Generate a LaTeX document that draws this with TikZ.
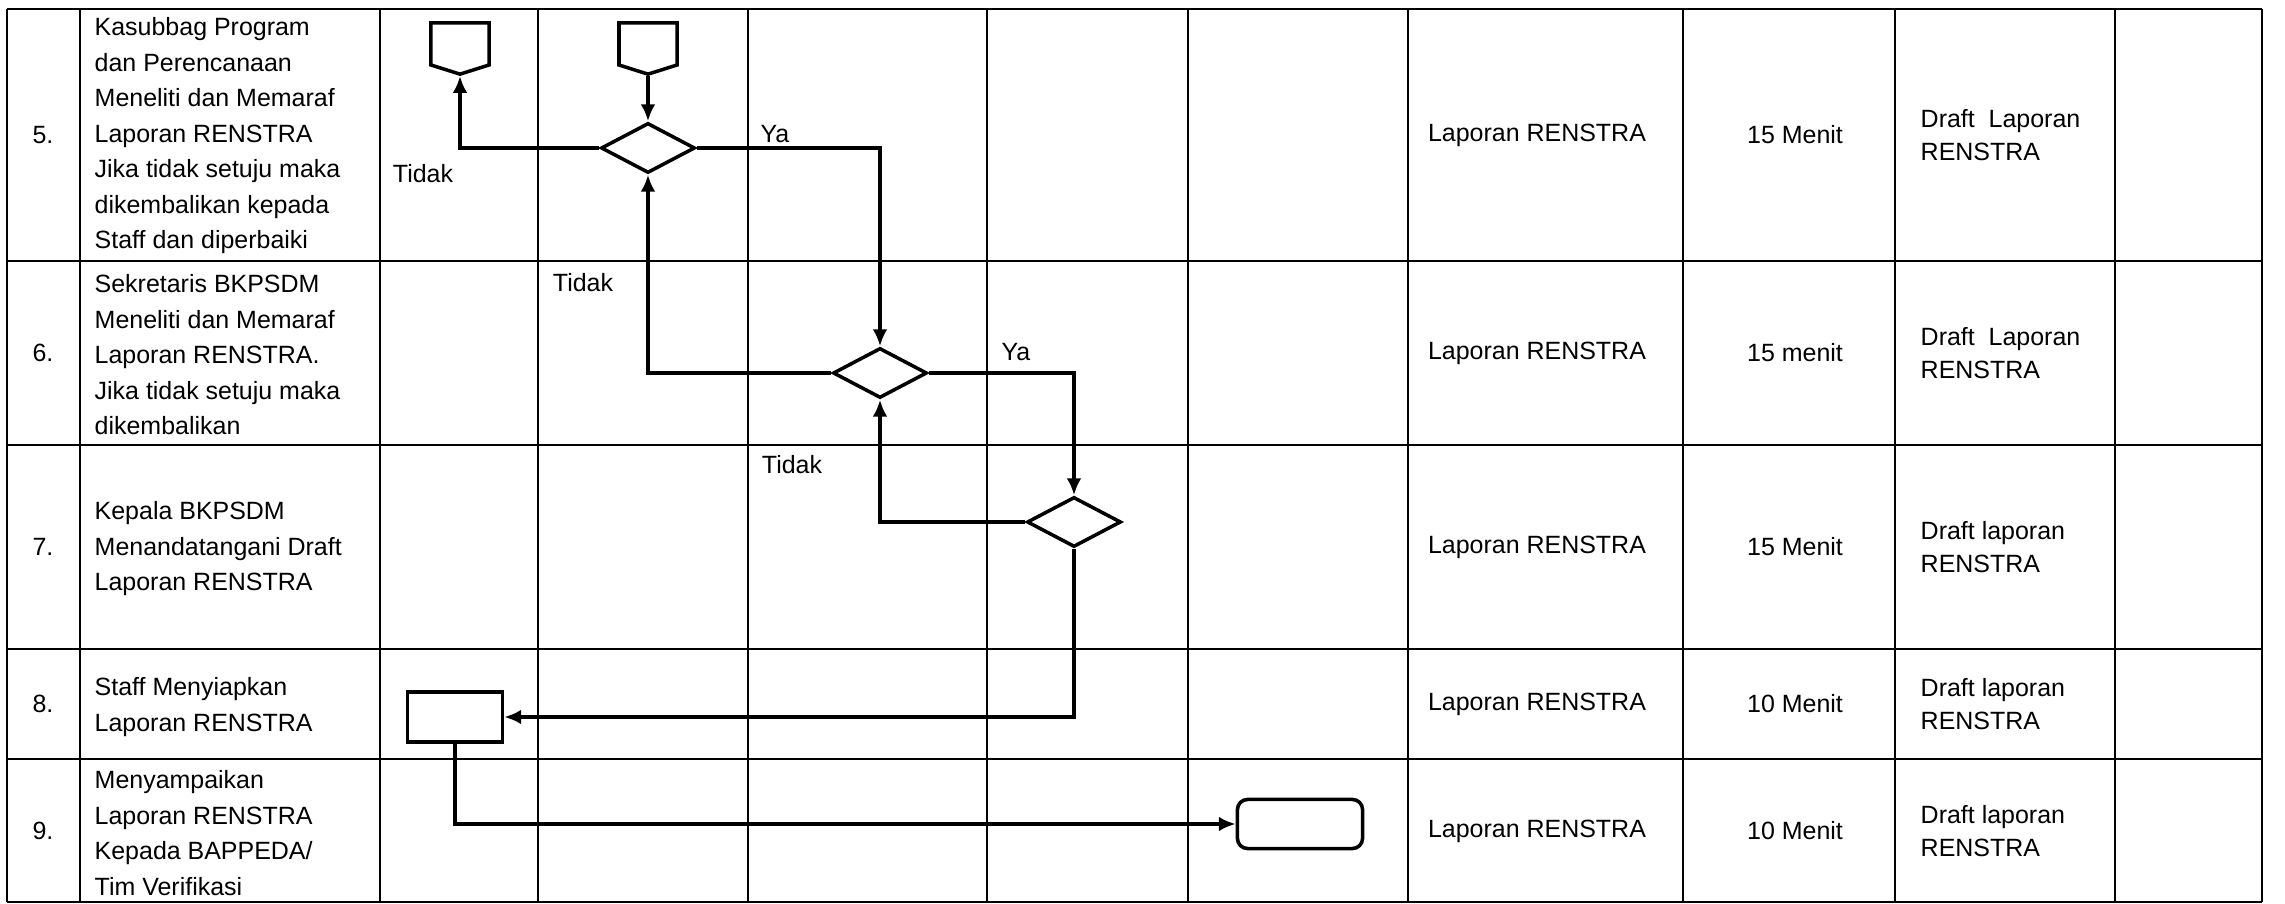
\documentclass[tikz,border=0pt]{standalone}
\usepackage{fontspec}
\setmainfont{Liberation Sans}
\usetikzlibrary{arrows.meta,shapes.geometric,shapes.symbols}

\begin{document}
\begin{tikzpicture}[x=0.01cm,y=-0.01cm,
    gridline/.style={line width=0.8pt},
    flow/.style={line width=0.95pt,-{Latex[length=4.8pt,width=4.2pt]}},
    decision/.style={diamond,draw,line width=1pt,minimum width=0.94cm,minimum height=0.5cm,inner sep=0pt},
    process/.style={rectangle,draw,line width=1pt,minimum width=0.95cm,minimum height=0.5cm,inner sep=0pt},
    terminal/.style={rectangle,draw,rounded corners=0.1cm,line width=1pt,minimum width=1.25cm,minimum height=0.49cm,inner sep=0pt},
    offpage/.style={signal,signal to=south,signal pointer angle=145,draw,line width=1pt,minimum width=0.58cm,minimum height=0.42cm,inner sep=0pt},
    celltext/.style={font=\fontsize{7.1}{10.1}\selectfont,inner sep=0pt,align=left},
    outtext/.style={font=\fontsize{7.1}{9.3}\selectfont,inner sep=0pt,align=left},
    flowlabel/.style={font=\fontsize{7.1}{10.1}\selectfont,inner sep=0pt}]

    % Page size
    \useasboundingbox (0,0) rectangle (2285,904);

    % Draw the table grid
    \foreach \x in {7,80,380,538,748,987,1188,1408,1683,1895,2115,2262}
        \draw[gridline] (\x,9) -- (\x,902);
    \foreach \y in {9,261,445,649,759,902}
        \draw[gridline] (7,\y) -- (2262,\y);

    % Step number, document, time and output of each row
    \foreach \n/\y/\t/\o in {5/135/15 Menit/Draft\ \ Laporan,6/353/15 menit/Draft\ \ Laporan,7/547/15 Menit/Draft laporan,8/704/10 Menit/Draft laporan,9/831/10 Menit/Draft laporan}{
        \node[celltext] (no\n) at (43,\y) {\n.};
        \node[celltext] (doc\n) at (1537,\y) {Laporan RENSTRA};
        \node[celltext] (time\n) at (1795,\y) {\t};
        \node[outtext,anchor=west] (out\n) at (1920,\y) {\o\\RENSTRA};
    }

    % Activities
    \node[celltext,anchor=west] (act5) at (94,136) {Kasubbag Program\\dan Perencanaan\\Meneliti dan Memaraf\\Laporan RENSTRA\\Jika tidak setuju maka\\dikembalikan kepada\\Staff dan diperbaiki};
    \node[celltext,anchor=west] (act6) at (94,355) {Sekretaris BKPSDM\\Meneliti dan Memaraf\\Laporan RENSTRA.\\Jika tidak setuju maka\\dikembalikan};
    \node[celltext,anchor=west] (act7) at (94,549) {Kepala BKPSDM\\Menandatangani Draft\\Laporan RENSTRA};
    \node[celltext,anchor=west] (act8) at (94,707) {Staff Menyiapkan\\Laporan RENSTRA};
    \node[celltext,anchor=west] (act9) at (94,833) {Menyampaikan\\Laporan RENSTRA\\Kepada BAPPEDA/\\Tim Verifikasi};

    % Flow symbols
    \node[offpage] (back5) at (460,44) {};
    \node[offpage] (in5) at (648,44) {};
    \node[decision] (cek5) at (648,148) {};
    \node[decision] (cek6) at (880,373) {};
    \node[decision] (cek7) at (1074,522) {};
    \node[process] (siap8) at (455,717) {};
    \node[terminal] (kirim9) at (1300,824) {};

    % Connectors
    \draw[flow] (in5) -- (cek5);
    \draw[flow] (cek5.west) -| (back5.south);
    \draw[flow] (cek5.east) -| (cek6.north);
    \draw[flow] (cek6.west) -| (cek5.south);
    \draw[flow] (cek6.east) -| (cek7.north);
    \draw[flow] (cek7.west) -| (cek6.south);
    \draw[flow] (cek7.south) |- (siap8.east);
    \draw[flow] (siap8.south) |- (kirim9.west);

    % Branch labels
    \node[flowlabel] (tidak5) at (423,174) {Tidak};
    \node[flowlabel] (ya5) at (775,134) {Ya};
    \node[flowlabel] (tidak6) at (583,283) {Tidak};
    \node[flowlabel] (ya6) at (1016,352) {Ya};
    \node[flowlabel] (tidak7) at (792,465) {Tidak};

\end{tikzpicture}
\end{document}
